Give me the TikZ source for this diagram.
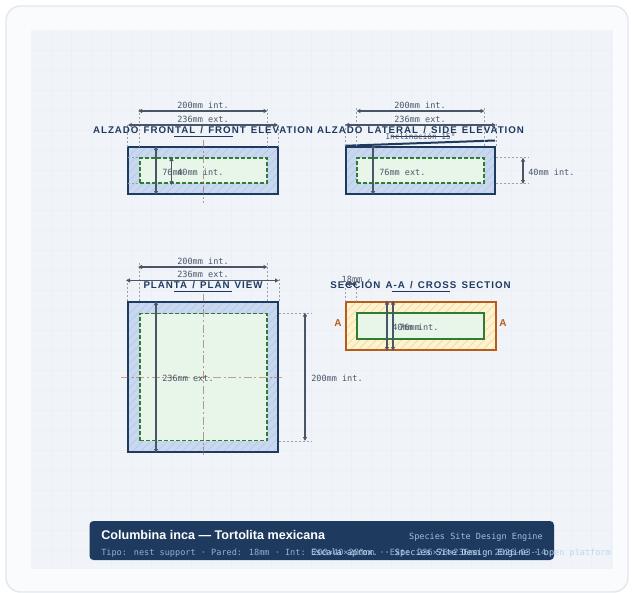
\documentclass[tikz,border=0pt]{standalone}
\usepackage{fontspec}
\setmainfont{Liberation Sans}
\newfontfamily\titlefont[LetterSpace=10,WordSpace=1.4]{Liberation Sans}
\newfontfamily\dimfont{DejaVu Sans Mono}
\usetikzlibrary{arrows.meta}
\usetikzlibrary{patterns.meta}
\definecolor{navy}{HTML}{1E3A5F}
\definecolor{sheet}{HTML}{FAFBFD}
\definecolor{sheetline}{HTML}{E2E8F0}
\definecolor{panel}{HTML}{F0F4F9}
\definecolor{gridline}{HTML}{ECF0F6}
\definecolor{wallblue}{HTML}{C8D8F0}
\definecolor{hatchblue}{HTML}{B4C6E0}
\definecolor{cavity}{HTML}{E8F5E9}
\definecolor{cavityline}{HTML}{2E7D32}
\definecolor{woodfill}{HTML}{FFF3CD}
\definecolor{woodhatch}{HTML}{EAD7AC}
\definecolor{cutline}{HTML}{B85C1A}
\definecolor{dimgrey}{HTML}{4A5568}
\definecolor{centre}{HTML}{C0392B}
\definecolor{subtext}{HTML}{8FB3D0}
\definecolor{credit}{HTML}{BBD6F0}
\begin{document}
\begin{tikzpicture}[x=0.75pt,y=-0.75pt]
\tikzstyle{wall} = [draw=navy, line width=1.5pt, inner sep=0pt, preaction={fill=wallblue},
pattern={Lines[angle=45,distance=4.4pt,line width=.4pt]}, pattern color=hatchblue]
\tikzstyle{wood} = [draw=cutline, line width=1.5pt, inner sep=0pt, preaction={fill=woodfill},
pattern={Lines[angle=45,distance=4.4pt,line width=.5pt]}, pattern color=woodhatch]
\tikzstyle{hollow} = [draw=cavityline, line width=.9pt, dash pattern=on 3pt off 1.5pt, fill=cavity, inner sep=0pt]
\tikzstyle{hollowcut} = [draw=cavityline, line width=1pt, fill=cavity, inner sep=0pt]
\tikzstyle{dim} = [draw=dimgrey, line width=.85pt, {Latex[length=3pt,width=3.6pt]}-{Latex[length=3pt,width=3.6pt]}]
\tikzstyle{ext} = [draw=dimgrey!55, line width=.4pt, dash pattern=on 1.5pt off 1.5pt]
\tikzstyle{axis} = [draw=centre, opacity=.5, line width=.6pt, dash pattern=on 6pt off 2pt on 1.5pt off 2pt]
\tikzstyle{axisv} = [draw=centre!35!gray, opacity=.65, line width=.6pt, dash pattern=on 6pt off 2pt on 1.5pt off 2pt]
\tikzstyle{dimtext} = [font=\dimfont\fontsize{6.4pt}{7pt}\selectfont, text=dimgrey, anchor=base, inner sep=0pt]
\tikzstyle{dimleft} = [dimtext, anchor=base west]
\tikzstyle{title} = [font=\titlefont\bfseries\fontsize{7.3pt}{8pt}\selectfont, text=navy, anchor=base, inner sep=0pt]
\tikzstyle{rule} = [draw=navy, line width=.75pt]
\tikzstyle{cutmark} = [font=\bfseries\fontsize{7.5pt}{8pt}\selectfont, text=cutline, anchor=base, inner sep=0pt]
\useasboundingbox (0,0) rectangle (634,592);
% sheet
\path[fill=white] (0,0) rectangle (634,592);
\draw[fill=sheet, draw=sheetline, line width=1.1pt, rounded corners=11pt] (6,6) rectangle (628,592);
\fill[panel] (31,30) rectangle (613,569);
\foreach \gx in {51,71,...,611} \draw[gridline, line width=.3pt] (\gx,30) -- (\gx,569);
\foreach \gy in {50,70,...,550} \draw[gridline, line width=.3pt] (31,\gy) -- (613,\gy);
% front elevation
\node[wall, minimum width=112.5pt, minimum height=35.6pt] (frontwall) at (203,170.5) {};
\node[hollow, minimum width=95.25pt, minimum height=18.75pt] (frontcavity) at (203.5,170.5) {};
\draw[axisv] (203,140) -- (203,203);
\draw[ext] (frontwall.north west) -- ++(0,-24);
\draw[ext] (frontwall.north east) -- ++(0,-24);
\draw[ext] (frontcavity.north west |- frontwall.north) -- ++(0,-40);
\draw[ext] (frontcavity.north east |- frontwall.north) -- ++(0,-40);
\draw[ext] (frontwall.west |- frontcavity.north) -- (frontcavity.north west);
\draw[ext] (frontwall.west |- frontcavity.south) -- (frontcavity.south west);
\draw[dim] (138,111) -- (frontcavity.north east |- 0,111);
\draw[dim] (frontwall.north west |- 0,125) -- (frontwall.north east |- 0,125);
\draw[dim] (156,146) -- (156,195);
\draw[dim] (171.5,157) -- (171.5,185);
% side elevation
\node[wall, minimum width=111.75pt, minimum height=35.6pt] (sidewall) at (420.5,170.5) {};
\node[hollow, minimum width=95.25pt, minimum height=18.75pt] (sidecavity) at (420.5,170.5) {};
\draw[navy, line width=1.5pt] (sidewall.north west) -- (495,140.5);
\draw[ext] (sidewall.north west) -- ++(0,-24);
\draw[ext] (sidewall.north east) -- ++(0,-24);
\draw[ext] (sidecavity.north west |- sidewall.north) -- ++(0,-40);
\draw[ext] (sidecavity.north east |- sidewall.north) -- ++(0,-40);
\draw[ext] (sidecavity.north east) ++(11,0) -- ++(33,0);
\draw[ext] (sidecavity.south east) ++(11,0) -- ++(33,0);
\draw[dim] (sidecavity.north west |- 0,111) -- (sidecavity.north east |- 0,111);
\draw[dim] (sidewall.north west |- 0,125) -- (sidewall.north east |- 0,125);
\draw[dim] (373,144) -- (373,195);
\draw[dim] (523,157.5) -- (523,184);
% plan view
\node[wall, minimum width=112.5pt, minimum height=112.5pt] (planwall) at (203,377) {};
\node[hollow, minimum width=95.25pt, minimum height=95.25pt] (plancavity) at (203.5,377) {};
\draw[axisv] (203,294) -- (203,458);
\draw[axis] (121,377) -- (285,377);
\draw[ext] (planwall.north west) -- ++(0,-24);
\draw[ext] (planwall.north east) -- ++(0,-24);
\draw[ext] (plancavity.north west |- planwall.north) -- ++(0,-40);
\draw[ext] (plancavity.north east |- planwall.north) -- ++(0,-40);
\draw[ext] (planwall.east |- plancavity.north) -- ++(33,0);
\draw[ext] (planwall.east |- plancavity.south) -- ++(33,0);
\draw[dim] (138,267) -- (plancavity.north east |- 0,267);
\draw[dim] (126,280.5) -- (279,280.5);
\draw[dim] (156,301) -- (156,453);
\draw[dim] (305,312.5) -- (305,441);
% cross section
\node[wood, minimum width=112.5pt, minimum height=36pt] (cutwall) at (421,326) {};
\node[hollowcut, minimum width=95.25pt, minimum height=19.5pt] (cutcavity) at (420.5,326) {};
\draw[ext] (cutwall.north west) -- ++(0,-19);
\draw[ext] (cutcavity.north west |- cutwall.north) -- ++(0,-19);
\draw[dim] (346,284) -- (357,284);
\draw[dim] (387,300.5) -- (387,351);
\draw[dim] (393,300.5) -- (393,351);
% titles
\node[title] (fronttitle) at (203,133) {ALZADO FRONTAL / FRONT ELEVATION};
\node[title] (sidetitle) at (420.5,133) {ALZADO LATERAL / SIDE ELEVATION};
\node[title] (plantitle) at (203,288) {PLANTA / PLAN VIEW};
\node[title] (cuttitle) at (420.5,288) {SECCIÓN A-A / CROSS SECTION};
\draw[rule] (174,136) -- (233,136);
\draw[rule] (391,136) -- (450,136);
\draw[rule] (174,291) -- (232,291);
\draw[rule] (392,291) -- (450,291);
% labels
\node[dimtext] (frontint) at (203,108) {200mm int.};
\node[dimtext] (frontext) at (203,122) {236mm ext.};
\node[dimleft] (frontheight) at (162,175) {76mm};
\node[dimleft] (frontinner) at (177,175) {40mm int.};
\node[dimtext] (sideint) at (420,108) {200mm int.};
\node[dimtext] (sideext) at (420,122) {236mm ext.};
\node[dimtext, font=\dimfont\fontsize{5.8pt}{7pt}\selectfont] (slope) at (420.5,139) {Inclinación 15°};
\node[dimleft] (sideheight) at (379,175) {76mm ext.};
\node[dimleft] (sideinner) at (528,175) {40mm int.};
\node[dimtext] (planint) at (203,264) {200mm int.};
\node[dimtext] (planext) at (203,277) {236mm ext.};
\node[dimleft] (plandepth) at (162,381) {236mm ext.};
\node[dimleft] (planinner) at (311,381) {200mm int.};
\node[dimtext] (cutwidth) at (352,282) {18mm};
\node[dimleft] (cutinner) at (392,330) {40mm int.};
\node[dimleft] (cutheight) at (399,330) {76mm};
\node[cutmark] (markleft) at (338,326.5) {A};
\node[cutmark] (markright) at (503,326.5) {A};
% banner
\fill[navy, rounded corners=3pt] (89.5,521) rectangle (554,560);
\node[font=\bfseries\fontsize{9.45pt}{11pt}\selectfont, text=white, anchor=base west, inner sep=0pt] (species) at (101,539) {Columbina inca — Tortolita mexicana};
\node[font=\dimfont\fontsize{6.4pt}{7pt}\selectfont, text=credit!85!navy, anchor=base east, inner sep=0pt] (engine) at (543,539) {Species Site Design Engine};
\node[font=\dimfont\fontsize{6.42pt}{7pt}\selectfont, text=subtext, anchor=base west, inner sep=0pt] (specs) at (101,555) {Tipo: nest support · Pared: 18mm · Int: 200×40×200mm · Ext: 236×76×236mm · 2026-03-14};
\node[font=\dimfont\fontsize{6.4pt}{7pt}\selectfont, text=credit, anchor=base east, inner sep=0pt] (platform) at (611,555) {Escala aprox. · Species Site Design Engine · open platform};
\end{tikzpicture}
\end{document}
